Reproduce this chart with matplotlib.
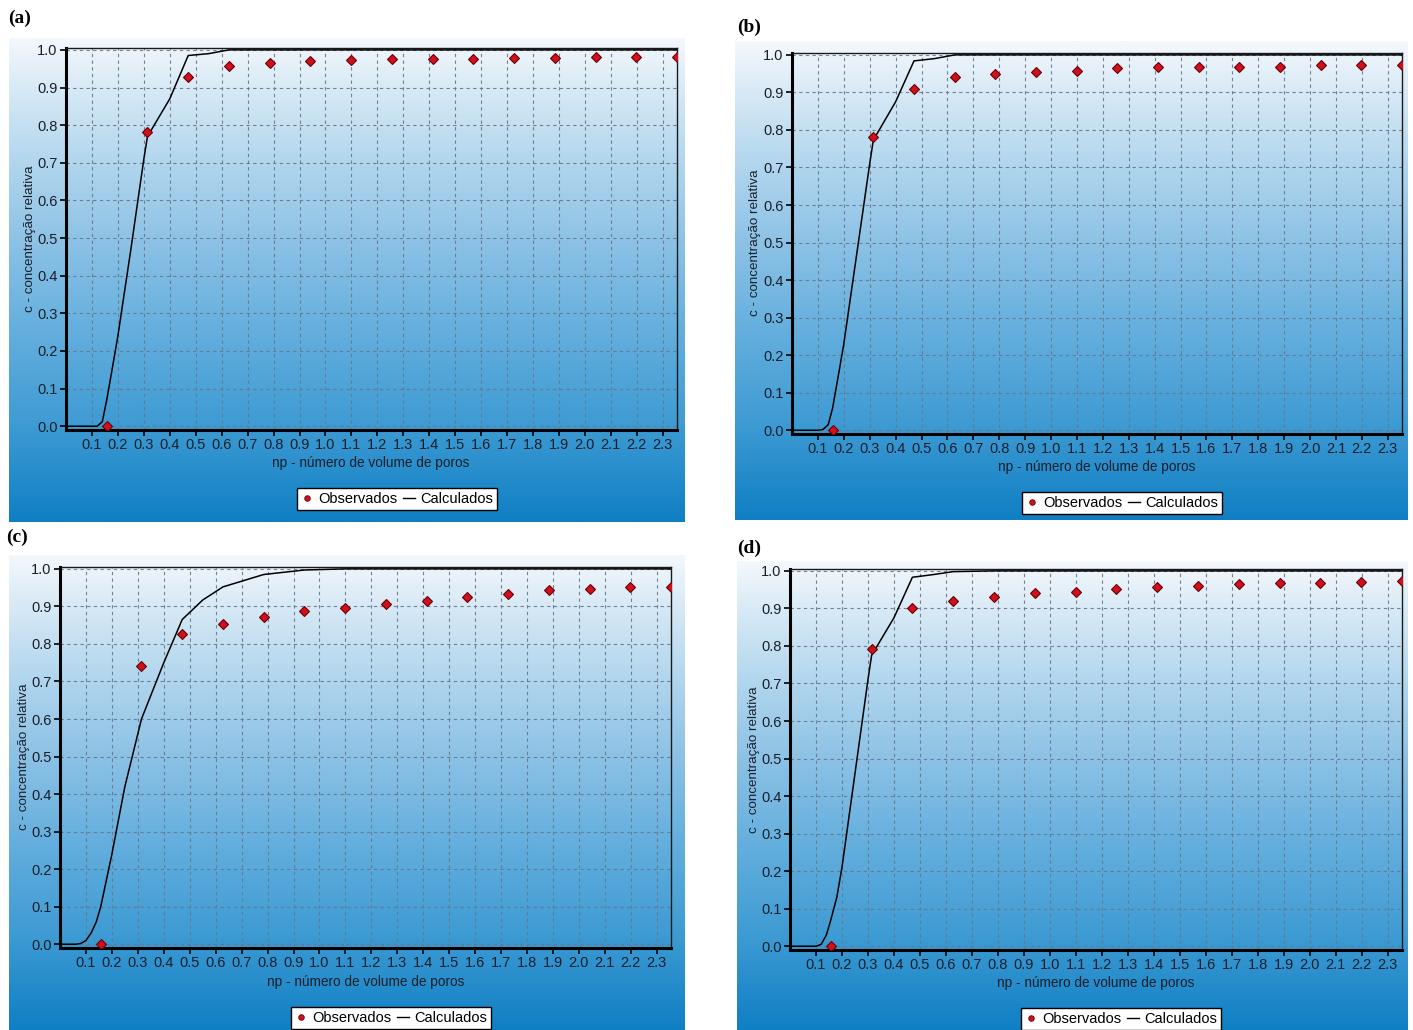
import matplotlib
matplotlib.use('Agg')
import matplotlib.pyplot as plt
import numpy as np
from matplotlib.colors import LinearSegmentedColormap
from matplotlib.lines import Line2D

plt.rcParams['font.family'] = ['Liberation Sans', 'DejaVu Sans']

# ---------------- data ----------------
x_ticks = [0.1, 0.2, 0.3, 0.4, 0.5, 0.6, 0.7, 0.8, 0.9, 1.0, 1.1, 1.2,
           1.3, 1.4, 1.5, 1.6, 1.7, 1.8, 1.9, 2.0, 2.1, 2.2, 2.3]
x_tick_labels = ['0.1', '0.2', '0.3', '0.4', '0.5', '0.6', '0.7', '0.8', '0.9',
                 '1.0', '1.1', '1.2', '1.3', '1.4', '1.5', '1.6', '1.7', '1.8',
                 '1.9', '2.0', '2.1', '2.2', '2.3']
y_ticks = [0.0, 0.1, 0.2, 0.3, 0.4, 0.5, 0.6, 0.7, 0.8, 0.9, 1.0]
y_tick_labels = ['0.0', '0.1', '0.2', '0.3', '0.4', '0.5', '0.6', '0.7', '0.8', '0.9', '1.0']

np_obs = [0.157, 0.314, 0.471, 0.628, 0.785, 0.942, 1.099, 1.256,
          1.413, 1.570, 1.727, 1.884, 2.041, 2.198, 2.355]

obs_a = [0.0, 0.782, 0.928, 0.957, 0.966, 0.971, 0.973, 0.976,
         0.976, 0.976, 0.979, 0.979, 0.981, 0.981, 0.981]
obs_b = [0.0, 0.781, 0.909, 0.941, 0.949, 0.955, 0.957, 0.965,
         0.968, 0.968, 0.968, 0.968, 0.973, 0.973, 0.973]
obs_c = [0.0, 0.741, 0.827, 0.853, 0.872, 0.888, 0.896, 0.907,
         0.915, 0.925, 0.933, 0.944, 0.947, 0.952, 0.952]
obs_d = [0.0, 0.792, 0.901, 0.920, 0.931, 0.941, 0.944, 0.952,
         0.957, 0.960, 0.965, 0.968, 0.968, 0.971, 0.973]

calc_x_abd = [0.0, 0.10, 0.12, 0.14, 0.157, 0.18, 0.20, 0.25, 0.30, 0.314,
              0.40, 0.471, 0.55, 0.628, 0.785, 2.355]
calc_a = [0.0, 0.0, 0.0, 0.012, 0.07, 0.16, 0.24, 0.47, 0.71, 0.77,
          0.87, 0.985, 0.99, 1.0, 1.0, 1.0]
calc_b = [0.0, 0.0, 0.002, 0.015, 0.06, 0.15, 0.23, 0.47, 0.71, 0.773,
          0.875, 0.984, 0.99, 1.0, 1.0, 1.0]
calc_d = [0.0, 0.0, 0.005, 0.03, 0.07, 0.13, 0.21, 0.46, 0.71, 0.775,
          0.875, 0.983, 0.99, 0.998, 1.0, 1.0]

calc_x_c = [0.0, 0.06, 0.08, 0.10, 0.12, 0.14, 0.157, 0.20, 0.25, 0.314,
            0.40, 0.471, 0.55, 0.628, 0.785, 0.942, 1.099, 2.355]
calc_c = [0.0, 0.0, 0.002, 0.01, 0.03, 0.06, 0.10, 0.24, 0.42, 0.60,
          0.75, 0.865, 0.917, 0.952, 0.985, 0.997, 1.0, 1.0]

xlabel_text = 'np - número de volume de poros'
ylabel_text = 'c - concentração relativa'
legend_labels = ['Observados', 'Calculados']

# ---------------- figure ----------------
W, H = 1413, 1030
fig = plt.figure(figsize=(W / 100, H / 100), dpi=100)
fig.patch.set_facecolor('white')

bg_cmap = LinearSegmentedColormap.from_list(
    'bg', [(0.0, '#f4f8fc'), (0.1, '#d9eaf6'), (0.25, '#b3d7ee'),
           (0.41, '#8fc3e6'), (0.6, '#65afde'), (0.8, '#3e9bd3'),
           (1.0, '#0f7fc4')])


def frac_rect(x0, y0, x1, y1):
    return [x0 / W, 1 - y1 / H, (x1 - x0) / W, (y1 - y0) / H]


panels = [
    dict(tag='(a)', tagpos=(8, 18), bg=(9, 38, 685, 522), ax=(66, 48, 677, 430),
         obs=obs_a, cx=calc_x_abd, cy=calc_a, xl=(371, 463), yl=(30, 239), lg=(397, 499)),
    dict(tag='(b)', tagpos=(737, 27), bg=(735, 41, 1408, 520), ax=(792, 53, 1402, 434),
         obs=obs_b, cx=calc_x_abd, cy=calc_b, xl=(1097, 467), yl=(755, 243), lg=(1122, 503)),
    dict(tag='(c)', tagpos=(6, 537), bg=(9, 555, 685, 1030), ax=(60, 567, 671, 948),
         obs=obs_c, cx=calc_x_c, cy=calc_c, xl=(366, 982), yl=(24, 757), lg=(391, 1018)),
    dict(tag='(d)', tagpos=(737, 548), bg=(737, 561, 1408, 1030), ax=(790, 569, 1402, 950),
         obs=obs_d, cx=calc_x_abd, cy=calc_d, xl=(1096, 983), yl=(754, 760), lg=(1121, 1019)),
]

grad = np.linspace(0, 1, 256).reshape(-1, 1)
txt_color = '#1a1f2a'

for p in panels:
    bgax = fig.add_axes(frac_rect(*p['bg']), zorder=0)
    bgax.imshow(grad, aspect='auto', cmap=bg_cmap, extent=[0, 1, 0, 1], origin='upper')
    bgax.set_axis_off()

    ax = fig.add_axes(frac_rect(*p['ax']), zorder=1)
    ax.set_facecolor('none')
    ax.set_xlim(0, 2.355)
    ax.set_ylim(-0.01, 1.005)
    ax.set_xticks(x_ticks)
    ax.set_xticklabels(x_tick_labels)
    ax.set_yticks(y_ticks)
    ax.set_yticklabels(y_tick_labels)
    ax.grid(True, color='#66788a', linestyle=(0, (3, 3)), linewidth=0.8, alpha=0.9)
    ax.set_axisbelow(True)
    for s in ['left', 'bottom']:
        ax.spines[s].set_linewidth(2.2)
        ax.spines[s].set_color('black')
    for s in ['top', 'right']:
        ax.spines[s].set_linewidth(1.0)
        ax.spines[s].set_color('#1a1a1a')
    ax.tick_params(direction='out', length=4, width=1.2, labelsize=10.5,
                   labelcolor=txt_color, pad=2)

    ax.plot(p['cx'], p['cy'], color='black', linewidth=1.1, zorder=3)
    ax.plot(np_obs, p['obs'], linestyle='none', marker='D', markersize=4.8,
            markerfacecolor='#d0101a', markeredgecolor='#6a0008',
            markeredgewidth=0.8, zorder=4, clip_on=True)

    fig.text(p['xl'][0] / W, 1 - p['xl'][1] / H, xlabel_text, ha='center',
             va='center', fontsize=9.8, color=txt_color)
    fig.text(p['yl'][0] / W, 1 - p['yl'][1] / H, ylabel_text, ha='center',
             va='center', rotation=90, fontsize=9.6, color=txt_color)
    fig.text(p['tagpos'][0] / W, 1 - p['tagpos'][1] / H, p['tag'], ha='left',
             va='center', fontsize=14, fontweight='bold',
             family=['Liberation Serif', 'DejaVu Serif'])

    h1 = Line2D([], [], linestyle='none', marker='o', markersize=4,
                markerfacecolor='#d0101a', markeredgecolor='#6a0008', markeredgewidth=0.6)
    h2 = Line2D([], [], color='black', linewidth=1.0)
    leg = ax.legend([h1, h2], legend_labels, ncol=2, loc='center',
                    bbox_to_anchor=(p['lg'][0] / W, 1 - p['lg'][1] / H),
                    bbox_transform=fig.transFigure, fontsize=10.5,
                    handlelength=0.8, handletextpad=0.35, columnspacing=0.4,
                    borderpad=0.3, fancybox=False, framealpha=1,
                    edgecolor='black', facecolor='white')
    leg.get_frame().set_linewidth(1.0)
    leg.set_zorder(5)

fig.savefig('out.png', dpi=100)
